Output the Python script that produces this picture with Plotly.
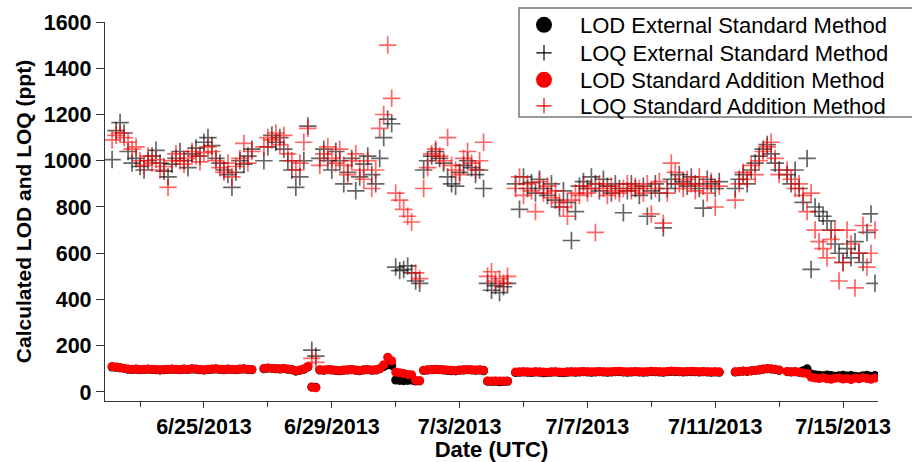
import pandas as pd
import plotly.graph_objects as go

# ---- sampling schedule (3-hourly runs, grouped into measurement periods) ----
SEG_STARTS = ["2013-06-22 03:00", "2013-06-26 21:00", "2013-07-01 00:00",
              "2013-07-01 15:00", "2013-07-01 21:00", "2013-07-03 21:00",
              "2013-07-04 18:00", "2013-07-11 15:00", "2013-07-13 06:00"]
SEG_COUNTS = [36, 33, 5, 2, 16, 6, 52, 12, 23]

# ---- values (ppt) ----
lod_external = [
    108, 107, 105, 102, 98, 97, 98, 96, 97, 98, 97, 96, 95, 96, 97, 98, 97, 96, 98, 97,
    99, 98, 96, 95, 97, 98, 99, 97, 96, 98, 97, 96, 98, 99, 97, 96,
    100, 103, 102, 100, 99, 101, 98, 96, 90, 94, 98, 108, 22, 20, 95, 94, 96, 95, 93, 92,
    94, 95, 96, 94, 92, 95, 96, 94, 95, 100, 110, 118, 115,
    52, 50, 49, 50, 51,
    47, 48,
    93, 95, 96, 97, 96, 95, 93, 92, 91, 94, 95, 96, 95, 94, 95, 92,
    46, 45, 46, 44, 45, 46,
    84, 85, 86, 85, 84, 86, 85, 83, 84, 85, 86, 84, 83, 85, 86, 85, 86, 87, 86, 85,
    86, 87, 86, 85, 86, 87, 88, 86, 85, 86, 87, 86, 85, 86, 88, 87, 86, 85, 87, 89,
    88, 87, 86, 87, 88, 87, 86, 87, 86, 85, 86, 85,
    86, 88, 90, 89, 91, 93, 95, 98, 100, 99, 97, 94,
    88, 86, 87, 85, 92, 100, 78, 74, 72, 70, 73, 71, 68, 70, 72, 69, 71, 68, 66, 70,
    72, 68, 71,
]
loq_external = [
    1005, 1130, 1165, 1120, 1040, 990, 1010, 975, 960, 1000, 1020, 1045, 990, 955, 930,
    985, 1010, 1040, 1000, 970, 1030, 1055, 1020, 1080, 1100, 1065, 1010, 990, 960, 940,
    885, 950, 1000, 985, 1020, 1050,
    1000, 1060, 1110, 1080, 1100, 1050, 1000, 960, 885, 930, 1000, 1150, 181, 155, 1010,
    1050, 1000, 960, 1040, 1000, 900, 950, 1010, 870, 930, 985, 1020, 940, 900, 1010,
    1100, 1180, 1160,
    540, 525, 530, 545, 515,
    480, 470,
    960, 1000, 1020, 1040, 1010, 990, 930, 900, 890, 950, 980, 1000, 970, 940, 960, 880,
    470, 440, 460, 430, 455, 470,
    900, 790, 930, 880, 905, 860, 920, 880, 850, 900, 830, 800, 870, 820, 655, 780,
    890, 910, 880, 930, 900, 870, 920, 890, 860, 900, 880, 775, 870, 900, 880, 850,
    890, 760, 870, 900, 860, 710, 880, 920, 900, 940, 910, 890, 930, 900, 880, 795,
    920, 900, 880, 910,
    880, 920, 940, 900, 960, 990, 1020, 1050, 1070, 1030, 990, 960,
    940, 900, 960, 880, 820, 1010, 530, 800, 780, 760, 740, 700, 640, 600, 560, 620,
    580, 650, 600, 560, 690, 770, 470,
]
lod_addition = [
    110, 108, 104, 103, 99, 98, 99, 97, 98, 99, 98, 97, 96, 97, 98, 99, 98, 97, 99, 98,
    100, 99, 97, 96, 98, 99, 100, 98, 97, 99, 98, 97, 99, 100, 98, 97,
    102, 104, 103, 101, 100, 102, 99, 97, 92, 95, 100, 110, 20, 18, 96, 95, 97, 96, 94, 93,
    95, 96, 97, 95, 93, 96, 97, 95, 96, 100, 118, 150, 135,
    86, 83, 80, 76, 74,
    50, 49,
    94, 96, 97, 98, 97, 96, 95, 94, 93, 95, 96, 97, 96, 95, 96, 94,
    48, 47, 48, 47, 47, 48,
    86, 87, 88, 87, 86, 88, 87, 86, 85, 87, 88, 86, 85, 87, 88, 87, 88, 89, 88, 87,
    88, 89, 88, 87, 88, 89, 90, 88, 87, 88, 89, 88, 87, 88, 90, 89, 88, 87, 89, 91,
    90, 89, 88, 89, 90, 89, 88, 89, 88, 87, 88, 87,
    87, 89, 91, 90, 92, 94, 96, 99, 101, 100, 98, 95,
    89, 88, 87, 86, 82, 80, 64, 60, 58, 62, 57, 55, 59, 61, 56, 58, 54, 60, 57, 62,
    58, 55, 60,
]
loq_addition = [
    1090, 1110, 1120, 1100, 1080, 1050, 1060, 1000, 980, 1020, 990, 1005, 960, 975, 885,
    1000, 1030, 1000, 985, 1010, 1040, 1020, 995, 1035, 1060, 1040, 1000, 970, 950, 990,
    930, 975, 1010, 1075, 990, 1040,
    1060, 1100, 1090, 1120, 1070, 1110, 1030, 1000, 960, 990, 1080, 1140, 145, 128, 980,
    1030, 1060, 1010, 990, 1050, 980, 940, 1000, 1030, 960, 920, 1000, 880, 960, 1140,
    1200, 1500, 1270,
    860, 830, 790, 760, 735,
    515, 490,
    880, 970, 1030, 1050, 1020, 1000, 1100, 980, 960, 940, 1010, 1040, 990, 960, 1000, 1080,
    500, 520, 480, 490, 470, 500,
    880, 930, 850, 900, 870, 780, 910, 860, 890, 840, 870, 820, 800, 760, 830, 860,
    850, 890, 860, 880, 690, 900, 880, 850, 890, 870, 860, 880, 900, 870, 890, 880,
    860, 900, 770, 880, 910, 730, 860, 990, 950, 900, 880, 920, 900, 870, 930, 890,
    860, 910, 800, 890,
    830, 900, 950, 920, 980, 940, 1000, 1040, 1060, 1080, 1010, 940,
    960, 920, 880, 900, 850, 780, 860, 700, 650, 620, 580, 660, 700, 480, 560, 700,
    640, 450, 600, 720, 540, 600, 700,
]

SERIES_NAMES = ["LOD External Standard Method", "LOQ External Standard Method",
                "LOD Standard Addition Method", "LOQ Standard Addition Method"]
X_TICK0 = "2013-06-25"
X_RANGE = ["2013-06-21 21:40", "2013-07-16 02:15"]
Y_RANGE = [-39, 1600]

times = []
for start, n in zip(SEG_STARTS, SEG_COUNTS):
    times.extend(pd.date_range(start, periods=n, freq="3h").strftime("%Y-%m-%d %H:%M"))

for arr in (lod_external, loq_external, lod_addition, loq_addition):
    assert len(arr) == len(times), (len(arr), len(times))

FONT = "Arial, Liberation Sans, sans-serif"
W, H = 912, 462
ML, MR, MT, MB = 105, 34, 22, 61
PW, PH = W - ML - MR, H - MT - MB

def px_x(px):
    return (px - ML) / PW

def px_y(py):
    return 1 - (py - MT) / PH

fig = go.Figure()

def circles(y, color, name):
    fig.add_trace(go.Scatter(x=times, y=y, mode="markers", name=name, showlegend=False,
                             marker=dict(symbol="circle", size=9, color=color,
                                         line=dict(width=0))))

def crosses(y, color, name):
    fig.add_trace(go.Scatter(x=times, y=y, mode="markers", name=name, showlegend=False,
                             marker=dict(symbol="cross-thin", size=12.5, color=color,
                                         opacity=0.6,
                                         line=dict(width=1.7, color=color))))

circles(lod_external, "black", SERIES_NAMES[0])
crosses(loq_external, "black", SERIES_NAMES[1])
circles(lod_addition, "#ff0000", SERIES_NAMES[2])
crosses(loq_addition, "#ff0000", SERIES_NAMES[3])

# legend entries (larger symbols, as in the original legend), one row per legend
legend_styles = [("circle", 16, "black", 0), ("cross-thin", 11, "black", 1.2),
                 ("circle", 16, "#ff0000", 0), ("cross-thin", 11, "#ff0000", 1.2)]
legend_ids = ["legend", "legend2", "legend3", "legend4"]
row_px = [25, 53, 80, 106]
for name, (sym, sz, col, lw), lid in zip(SERIES_NAMES, legend_styles, legend_ids):
    fig.add_trace(go.Scatter(x=[None], y=[None], mode="markers", name=name, legend=lid,
                             marker=dict(symbol=sym, size=sz, color=col,
                                         line=dict(width=lw, color=col))))

legend_layout = {}
for lid, ry in zip(legend_ids, row_px):
    legend_layout[lid] = dict(x=px_x(508), y=px_y(ry), xanchor="left", yanchor="middle",
                              bgcolor="rgba(0,0,0,0)", borderwidth=0, itemwidth=62,
                              font=dict(family=FONT, size=22, color="black"))

fig.update_layout(
    width=W, height=H,
    margin=dict(l=ML, r=MR, t=MT, b=MB, autoexpand=False),
    plot_bgcolor="white", paper_bgcolor="white",
    font=dict(family=FONT, color="black"),
    shapes=[dict(type="rect", xref="paper", yref="paper",
                 x0=px_x(519), x1=px_x(916), y0=px_y(117), y1=px_y(8),
                 line=dict(color="#777777", width=1.5), fillcolor="white")],
    **legend_layout,
)
fig.update_xaxes(
    type="date", range=X_RANGE, tickmode="linear", tick0=X_TICK0,
    dtick=4 * 86400000, tickformat="%-m/%-d/%Y",
    ticks="outside", ticklen=6, tickwidth=1.3, tickcolor="#333333",
    showline=True, linecolor="#333333", linewidth=1.3,
    showgrid=False, zeroline=False,
    tickfont=dict(family=FONT, size=21.5, weight="bold", color="black"),
    minor=dict(dtick=2 * 86400000, tick0="2013-06-23", ticks="outside",
               ticklen=5, tickwidth=1.3, tickcolor="#333333", showgrid=False),
    title=dict(text="Date (UTC)", standoff=4,
               font=dict(family=FONT, size=22, weight="bold", color="black")),
)
fig.update_yaxes(
    range=Y_RANGE, tickmode="linear", tick0=0, dtick=200,
    ticks="outside", ticklen=8, tickwidth=1.3, tickcolor="#333333",
    showline=True, linecolor="#333333", linewidth=1.3,
    showgrid=False, zeroline=False,
    tickfont=dict(family=FONT, size=21.5, weight="bold", color="black"),
    title=dict(text="Calculated LOD and LOQ (ppt)", standoff=6,
               font=dict(family=FONT, size=21, weight="bold", color="black")),
)

fig.write_html("out.html")
